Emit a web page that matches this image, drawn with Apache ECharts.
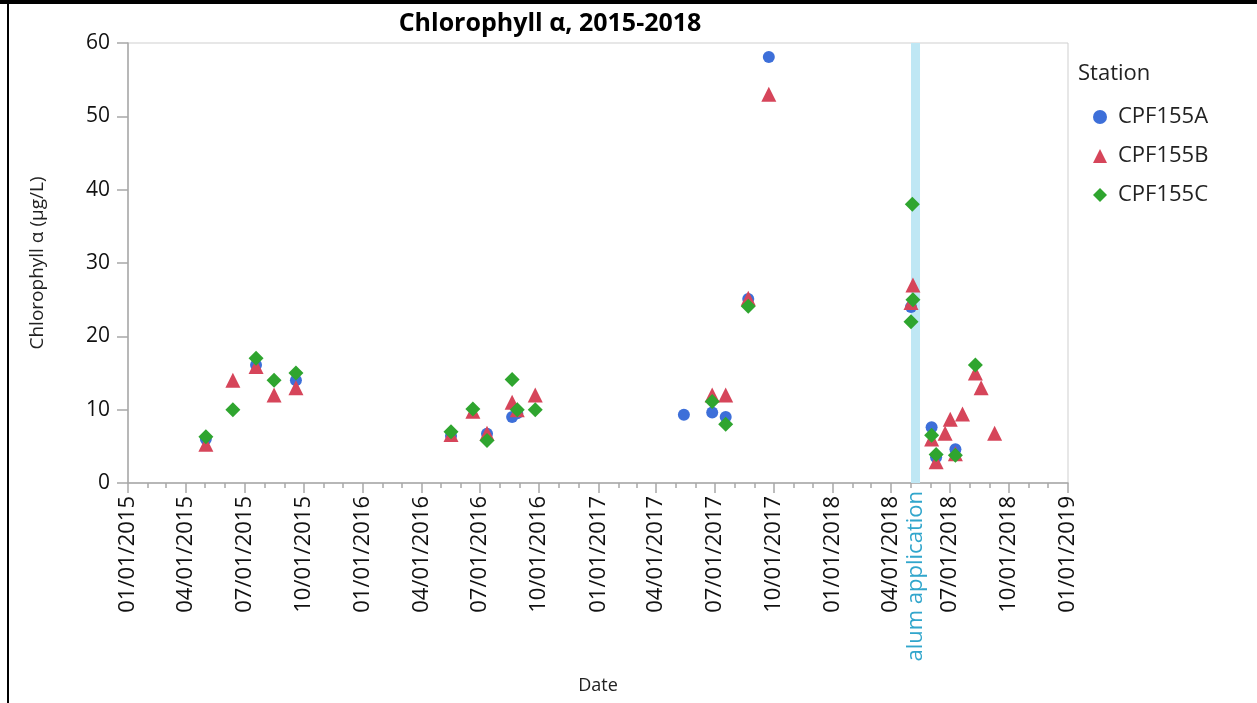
<!DOCTYPE html>
<html>
<head>
<meta charset="utf-8">
<script src="https://cdn.jsdelivr.net/npm/echarts@6/dist/echarts.min.js"></script>
<style>
html,body{margin:0;padding:0;background:#fff;}
#chart{width:1257px;height:703px;position:relative;}
#topline{position:absolute;left:0;top:0;width:1257px;height:4px;background:#000;}
#leftline{position:absolute;left:7px;top:0;width:2px;height:703px;background:#000;}
</style>
</head>
<body>
<div id="chart"></div>
<div id="topline"></div>
<div id="leftline"></div>
<script>
// ---- data ----
const stationNames = ['CPF155A', 'CPF155B', 'CPF155C'];
const stationA = [
  ['2015-05-02', 6.0], ['2015-07-19', 16.1], ['2015-09-19', 14.0],
  ['2016-05-17', 6.4], ['2016-07-12', 6.7], ['2016-08-20', 9.0], ['2016-08-28', 9.5],
  ['2017-05-14', 9.3], ['2017-06-27', 9.6], ['2017-07-18', 9.0], ['2017-08-22', 25.1], ['2017-09-23', 58.1],
  ['2018-05-02', 24.0], ['2018-06-03', 7.6], ['2018-06-10', 3.5], ['2018-07-10', 4.6]
];
const stationB = [
  ['2015-05-02', 5.3], ['2015-06-13', 14.0], ['2015-07-19', 15.9], ['2015-08-16', 12.0], ['2015-09-19', 13.0],
  ['2016-05-17', 6.6], ['2016-06-20', 9.8], ['2016-07-12', 6.8], ['2016-08-20', 11.0], ['2016-08-28', 10.0], ['2016-09-25', 12.0],
  ['2017-06-27', 12.0], ['2017-07-18', 12.0], ['2017-08-22', 25.2], ['2017-09-23', 53.0],
  ['2018-05-02', 24.6], ['2018-05-05', 27.0], ['2018-06-03', 6.0], ['2018-06-10', 2.9], ['2018-06-24', 6.8],
  ['2018-07-02', 8.7], ['2018-07-10', 4.0], ['2018-07-21', 9.4], ['2018-08-10', 15.0], ['2018-08-19', 13.0], ['2018-09-09', 6.8]
];
const stationC = [
  ['2015-05-02', 6.3], ['2015-06-13', 10.0], ['2015-07-19', 17.0], ['2015-08-16', 14.0], ['2015-09-19', 15.0],
  ['2016-05-17', 7.0], ['2016-06-20', 10.1], ['2016-07-12', 5.8], ['2016-08-20', 14.1], ['2016-08-28', 10.0], ['2016-09-25', 10.0],
  ['2017-06-27', 11.1], ['2017-07-18', 8.0], ['2017-08-22', 24.1],
  ['2018-05-02', 22.0], ['2018-05-04', 38.0], ['2018-05-05', 25.0], ['2018-06-03', 6.5], ['2018-06-10', 3.9],
  ['2018-07-10', 3.8], ['2018-08-10', 16.1]
];
const xTickDates = ['2015-01-01','2015-04-01','2015-07-01','2015-10-01','2016-01-01','2016-04-01','2016-07-01','2016-10-01',
  '2017-01-01','2017-04-01','2017-07-01','2017-10-01','2018-01-01','2018-04-01','2018-07-01','2018-10-01','2019-01-01'];
const yTicks = [0, 10, 20, 30, 40, 50, 60];
const alumBand = ['2018-05-02', '2018-05-16'];
const alumLabel = 'alum application';

// ---- helpers ----
function ts(s) { const p = s.split('-'); return Date.UTC(+p[0], +p[1] - 1, +p[2]); }
function pad(n) { return (n < 10 ? '0' : '') + n; }
function fmt(v) { const d = new Date(v); return pad(d.getUTCMonth() + 1) + '/' + pad(d.getUTCDate()) + '/' + d.getUTCFullYear(); }
const xMin = ts(xTickDates[0]);
const xMax = ts(xTickDates[xTickDates.length - 1]);
const majorTicks = xTickDates.map(ts);
const minorTicks = [];
for (let y = 2015; y <= 2018; y++) for (let m = 0; m < 12; m++) minorTicks.push(Date.UTC(y, m, 1));
minorTicks.push(xMax);
const toPts = arr => arr.map(d => [ts(d[0]), d[1]]);

const FONT = 'Open Sans';
const colors = ['#3d6fd9', '#d6455a', '#2fa52f'];

const chart = echarts.init(document.getElementById('chart'));
const option = {
  animation: false,
  backgroundColor: '#fff',
  title: [
    { text: 'Chlorophyll α, 2015-2018', left: 545, textAlign: 'center', top: 6,
      textStyle: { fontFamily: FONT, fontWeight: 'bold', fontSize: 25, color: '#000' } },
    { text: 'Station', left: 1073, top: 58,
      textStyle: { fontFamily: FONT, fontWeight: 'normal', fontSize: 22, color: '#222' } }
  ],
  legend: {
    orient: 'vertical', left: 1088, top: 98,
    itemWidth: 14, itemHeight: 14, itemGap: 11,
    data: stationNames,
    textStyle: { fontFamily: FONT, fontSize: 22, color: '#222', lineHeight: 28, padding: [0, 0, 0, 6] }
  },
  grid: { left: 128, right: 189, top: 43, bottom: 220, show: true, borderColor: '#cfcfcf', borderWidth: 1,
    outerBoundsMode: 'none', containLabel: false },
  xAxis: [
    {
      type: 'value', min: xMin, max: xMax,
      name: 'Date', nameLocation: 'middle', nameGap: 194,
      nameTextStyle: { fontFamily: FONT, fontSize: 18, color: '#222' },
      axisLine: { show: true, lineStyle: { color: '#a8a8a8', width: 1.5 } },
      axisTick: { show: true, length: 10, customValues: majorTicks, lineStyle: { color: '#a8a8a8', width: 1.5 } },
      axisLabel: { show: true, customValues: majorTicks, rotate: 90, margin: 13, formatter: fmt,
        fontFamily: FONT, fontSize: 22, color: '#111', showMinLabel: true, showMaxLabel: true },
      splitLine: { show: false }
    },
    {
      type: 'value', min: xMin, max: xMax, position: 'bottom',
      axisLine: { show: false },
      axisTick: { show: true, length: 5, customValues: minorTicks, lineStyle: { color: '#a8a8a8', width: 1.5 } },
      axisLabel: { show: false },
      splitLine: { show: false }
    }
  ],
  yAxis: {
    type: 'value', min: 0, max: 60, interval: 10,
    name: 'Chlorophyll α (µg/L)', nameLocation: 'middle', nameGap: 81,
    nameTextStyle: { fontFamily: FONT, fontSize: 19, color: '#222' },
    axisLine: { show: true, lineStyle: { color: '#a8a8a8', width: 1.5 } },
    axisTick: { show: true, length: 11, customValues: yTicks, lineStyle: { color: '#a8a8a8', width: 1.5 } },
    axisLabel: { customValues: yTicks, margin: 18, fontFamily: FONT, fontSize: 21, color: '#111' },
    splitLine: { show: false }
  },
  series: [
    {
      name: '__band', type: 'scatter', data: [], silent: true, z: 1,
      markArea: { silent: true, itemStyle: { color: '#bfe7f4' },
        data: [[{ xAxis: ts(alumBand[0]) }, { xAxis: ts(alumBand[1]) }]] }
    },
    { name: stationNames[0], type: 'scatter', symbol: 'circle', symbolSize: 12, z: 3,
      itemStyle: { color: colors[0], opacity: 1 }, data: toPts(stationA) },
    { name: stationNames[1], type: 'scatter', symbol: 'triangle', symbolSize: 15, z: 4,
      itemStyle: { color: colors[1], opacity: 1 }, data: toPts(stationB) },
    { name: stationNames[2], type: 'scatter', symbol: 'diamond', symbolSize: 15, z: 5,
      itemStyle: { color: colors[2], opacity: 1 }, data: toPts(stationC) }
  ]
};
chart.setOption(option);

// alum application label under the band
const bandMid = (ts(alumBand[0]) + ts(alumBand[1])) / 2;
const bx = chart.convertToPixel({ xAxisIndex: 0 }, bandMid);
const by = chart.convertToPixel({ yAxisIndex: 0 }, 0);
chart.setOption({
  graphic: [{
    type: 'text', x: bx, y: by + 8, rotation: Math.PI / 2,
    style: { text: alumLabel, align: 'right', verticalAlign: 'middle',
      fontFamily: FONT, fontSize: 22, fill: '#31a6cc' }
  }]
});
</script>
</body>
</html>
